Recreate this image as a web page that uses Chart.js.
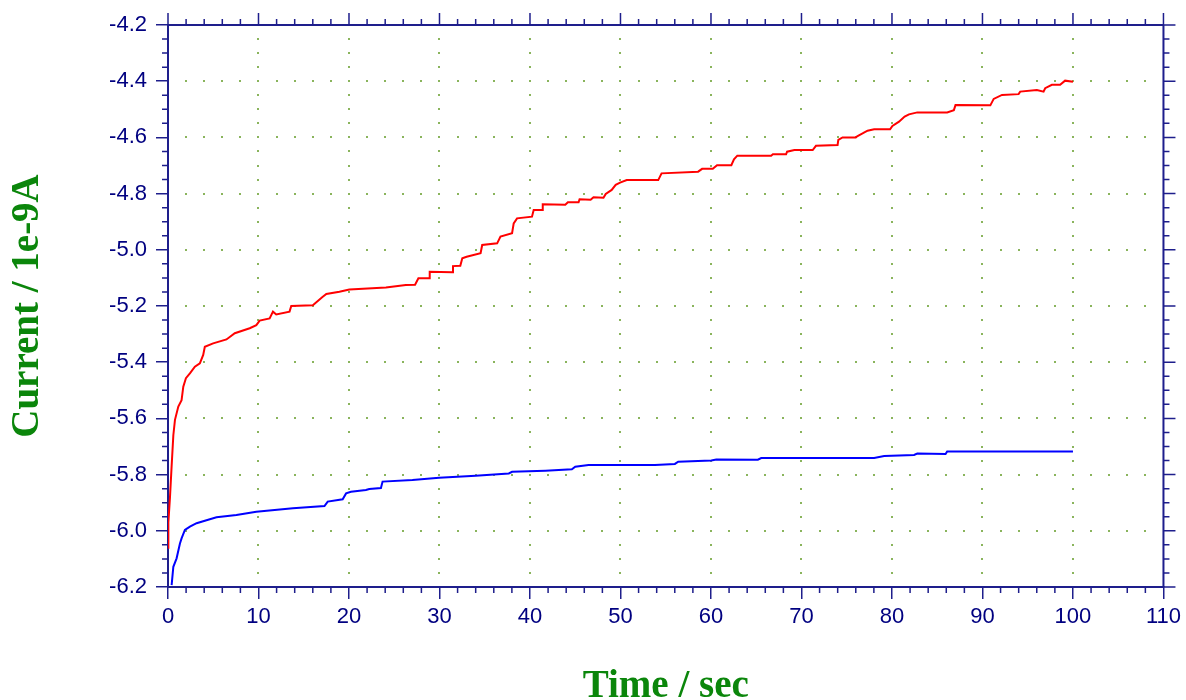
<!DOCTYPE html>
<html lang="en">
<head>
    <meta charset="UTF-8">
    <title>Current vs Time</title>
    <style>
        body {
            margin: 0;
            background: #ffffff;
        }
        #wrap {
            width: 1186px;
            height: 700px;
        }
    </style>
</head>
<body>
    <div id="wrap">
        <canvas id="ctChart" width="1186" height="700"></canvas>
    </div>

    <script src="https://cdn.jsdelivr.net/npm/chart.js"></script>
    <script>
        // red trace (s, 1e-9 A)
        const redTime = [0, 0.04, 0.22, 0.4, 0.59, 0.77, 1.14, 1.5, 1.69, 1.98, 2.42, 2.97, 3.52, 3.89, 4.07, 4.99,
            6.46, 7.38, 9.03, 9.76, 10.13, 11.23, 11.6, 11.96, 13.43, 13.62, 16.0, 17.1, 17.5, 18.94, 20.04,
            24.08, 26.28, 27.3, 27.67, 28.85, 28.92, 31.42, 31.49, 32.3, 32.52, 33.0, 34.54, 34.72, 36.37,
            36.74, 38.02, 38.2, 38.57, 40.22, 40.41, 41.33, 41.41, 43.9, 44.19, 45.37, 45.48, 46.7, 47.02,
            48.12, 48.37, 49.03, 49.47, 49.95, 50.69, 54.17, 54.54, 58.58, 59.02, 60.2, 60.67, 62.25, 62.54,
            62.91, 66.65, 66.84, 68.3, 68.41, 69.22, 71.24, 71.6, 73.99, 74.07, 74.54, 76.0, 76.2, 76.75,
            77.3, 78.03, 79.79, 80.05, 80.78, 81.4, 81.88, 82.8, 86.1, 86.84, 87.02, 90.87, 91.24, 92.16,
            93.99, 94.17, 96.01, 96.75, 96.93, 97.67, 98.58, 99.13, 100.0];
        const redCurrent = [-6.06, -5.97, -5.88, -5.77, -5.66, -5.605, -5.558, -5.535, -5.487, -5.457, -5.44, -5.416,
            -5.404, -5.374, -5.345, -5.333, -5.319, -5.297, -5.279, -5.268, -5.252, -5.244, -5.22, -5.23,
            -5.22, -5.2, -5.197, -5.167, -5.157, -5.149, -5.141, -5.134, -5.125, -5.124, -5.101, -5.101,
            -5.078, -5.08, -5.058, -5.057, -5.03, -5.025, -5.012, -4.983, -4.977, -4.953, -4.941, -4.906,
            -4.888, -4.882, -4.858, -4.858, -4.838, -4.84, -4.831, -4.831, -4.82, -4.822, -4.813, -4.815,
            -4.801, -4.787, -4.769, -4.761, -4.752, -4.752, -4.728, -4.722, -4.712, -4.712, -4.699, -4.699,
            -4.678, -4.665, -4.665, -4.66, -4.66, -4.651, -4.645, -4.645, -4.63, -4.627, -4.609, -4.6, -4.6,
            -4.595, -4.586, -4.576, -4.571, -4.571, -4.559, -4.544, -4.526, -4.518, -4.511, -4.511, -4.503,
            -4.485, -4.486, -4.463, -4.449, -4.446, -4.437, -4.431, -4.437, -4.425, -4.413, -4.413, -4.398,
            -4.402];

        // blue trace
        const blueTime = [0.4, 0.59, 0.95, 1.32, 1.5, 1.87, 2.42, 3.16, 4.07, 5.36, 7.56, 9.76, 13.8, 17.29, 17.65,
            19.3, 19.68, 20.22, 21.87, 22.24, 23.53, 23.71, 27.01, 29.95, 33.99, 37.66, 38.02, 41.7, 44.63,
            45.0, 46.47, 53.81, 56.01, 56.38, 60.04, 60.59, 65.18, 65.55, 78.03, 79.14, 82.44, 82.8, 85.92,
            86.1, 100.0];
        const blueCurrent = [-6.193, -6.128, -6.098, -6.045, -6.027, -5.997, -5.985, -5.973, -5.964, -5.952, -5.944,
            -5.932, -5.92, -5.912, -5.896, -5.888, -5.867, -5.861, -5.855, -5.851, -5.848, -5.825, -5.819,
            -5.811, -5.804, -5.796, -5.79, -5.786, -5.781, -5.772, -5.766, -5.766, -5.762, -5.754, -5.75,
            -5.746, -5.747, -5.741, -5.741, -5.734, -5.73, -5.725, -5.727, -5.718, -5.718];

        // axis ranges and tick spacing
        const xRange = [0, 110];
        const xMajor = 10, xMinor = 2;
        const yRange = [-6.2, -4.2];
        const yMajor = 0.2, yMinor = 0.05;

        const axisColor = '#1e1e8c';
        const labelColor = '#000080';
        const titleColor = '#0b860b';
        const dotColor = '#8ab45c';

        function toPoints(xs, ys) {
            return xs.map((x, i) => ({ x: x, y: ys[i] }));
        }

        function steps(from, to, step) {
            const out = [];
            const n = Math.round((to - from) / step);
            for (let i = 0; i <= n; i++) out.push(from + i * step);
            return out;
        }

        // dotted grid, minor ticks, and the top/right frame
        const framePlugin = {
            id: 'frame',
            beforeDatasetsDraw(chart) {
                const { ctx, scales: { x, y } } = chart;
                ctx.save();
                ctx.fillStyle = dotColor;
                const xs = steps(xRange[0], xRange[1], xMinor).slice(1, -1);
                const ys = steps(yRange[0], yRange[1], yMinor).slice(1, -1);
                const xMaj = steps(xRange[0], xRange[1], xMajor).slice(1, -1);
                const yMaj = steps(yRange[0], yRange[1], yMajor).slice(1, -1);
                xMaj.forEach(v => {
                    const px = Math.round(x.getPixelForValue(v));
                    ys.forEach(w => {
                        ctx.fillRect(px - 1, Math.round(y.getPixelForValue(w)) - 1, 2, 2);
                    });
                });
                yMaj.forEach(w => {
                    const py = Math.round(y.getPixelForValue(w));
                    xs.forEach(v => {
                        ctx.fillRect(Math.round(x.getPixelForValue(v)) - 1, py - 1, 2, 2);
                    });
                });
                ctx.restore();
            },
            afterDraw(chart) {
                const { ctx, chartArea: a, scales: { x, y } } = chart;
                ctx.save();
                ctx.strokeStyle = axisColor;
                ctx.lineWidth = 2;
                ctx.beginPath();
                ctx.moveTo(a.left, a.top);
                ctx.lineTo(a.right, a.top);
                ctx.moveTo(a.right, a.top);
                ctx.lineTo(a.right, a.bottom);
                ctx.stroke();

                ctx.lineWidth = 1.5;
                ctx.beginPath();
                steps(xRange[0], xRange[1], xMinor).forEach(v => {
                    const px = x.getPixelForValue(v);
                    const major = Math.abs(v / xMajor - Math.round(v / xMajor)) < 1e-6;
                    const len = major ? 12 : 6;
                    // top axis, every tick
                    ctx.moveTo(px, a.top);
                    ctx.lineTo(px, a.top - len);
                    // bottom axis, minor only (majors come from the scale)
                    if (!major) {
                        ctx.moveTo(px, a.bottom);
                        ctx.lineTo(px, a.bottom + len);
                    }
                });
                steps(yRange[0], yRange[1], yMinor).forEach(w => {
                    const py = y.getPixelForValue(w);
                    const k = (w - yRange[0]) / yMajor;
                    const major = Math.abs(k - Math.round(k)) < 1e-6;
                    const len = major ? 12 : 6;
                    ctx.moveTo(a.right, py);
                    ctx.lineTo(a.right + len, py);
                    if (!major) {
                        ctx.moveTo(a.left, py);
                        ctx.lineTo(a.left - len, py);
                    }
                });
                ctx.stroke();
                ctx.restore();
            }
        };

        const tickFont = { family: '"Liberation Sans", Arial, sans-serif', size: 22 };
        const titleFont = { family: '"Liberation Serif", "Times New Roman", serif', size: 39, weight: 'bold', lineHeight: 1 };

        const ctx = document.getElementById('ctChart').getContext('2d');
        const ctChart = new Chart(ctx, {
            type: 'line',
            data: {
                datasets: [{
                    label: 'red',
                    data: toPoints(redTime, redCurrent),
                    borderColor: '#ff0000',
                    borderWidth: 2,
                    pointRadius: 0,
                    tension: 0,
                    fill: false
                }, {
                    label: 'blue',
                    data: toPoints(blueTime, blueCurrent),
                    borderColor: '#0000ff',
                    borderWidth: 2,
                    pointRadius: 0,
                    tension: 0,
                    fill: false
                }]
            },
            options: {
                responsive: false,
                animation: false,
                devicePixelRatio: 1,
                layout: { padding: { left: 0, top: 25, right: 19, bottom: 0 } },
                plugins: {
                    legend: { display: false },
                    tooltip: { enabled: false }
                },
                scales: {
                    x: {
                        type: 'linear',
                        min: xRange[0],
                        max: xRange[1],
                        afterFit(scale) { scale.height = 113; },
                        ticks: {
                            stepSize: xMajor,
                            color: labelColor,
                            font: tickFont,
                            padding: 5,
                            maxRotation: 0
                        },
                        grid: {
                            drawOnChartArea: false,
                            color: axisColor,
                            lineWidth: 1.5,
                            tickLength: 12
                        },
                        border: { color: axisColor, width: 2 },
                        title: {
                            display: true,
                            text: 'Time / sec',
                            color: titleColor,
                            font: titleFont,
                            padding: { top: 0, bottom: -6 }
                        }
                    },
                    y: {
                        min: yRange[0],
                        max: yRange[1],
                        afterFit(scale) { scale.width = 168; },
                        ticks: {
                            stepSize: yMajor,
                            color: labelColor,
                            font: tickFont,
                            padding: 9,
                            callback: v => v.toFixed(1)
                        },
                        grid: {
                            drawOnChartArea: false,
                            color: axisColor,
                            lineWidth: 1.5,
                            tickLength: 12
                        },
                        border: { color: axisColor, width: 2 },
                        title: {
                            display: true,
                            text: 'Current / 1e-9A',
                            color: titleColor,
                            font: titleFont,
                            padding: { top: 8, bottom: 0 }
                        }
                    }
                }
            },
            plugins: [framePlugin]
        });
    </script>
</body>
</html>
